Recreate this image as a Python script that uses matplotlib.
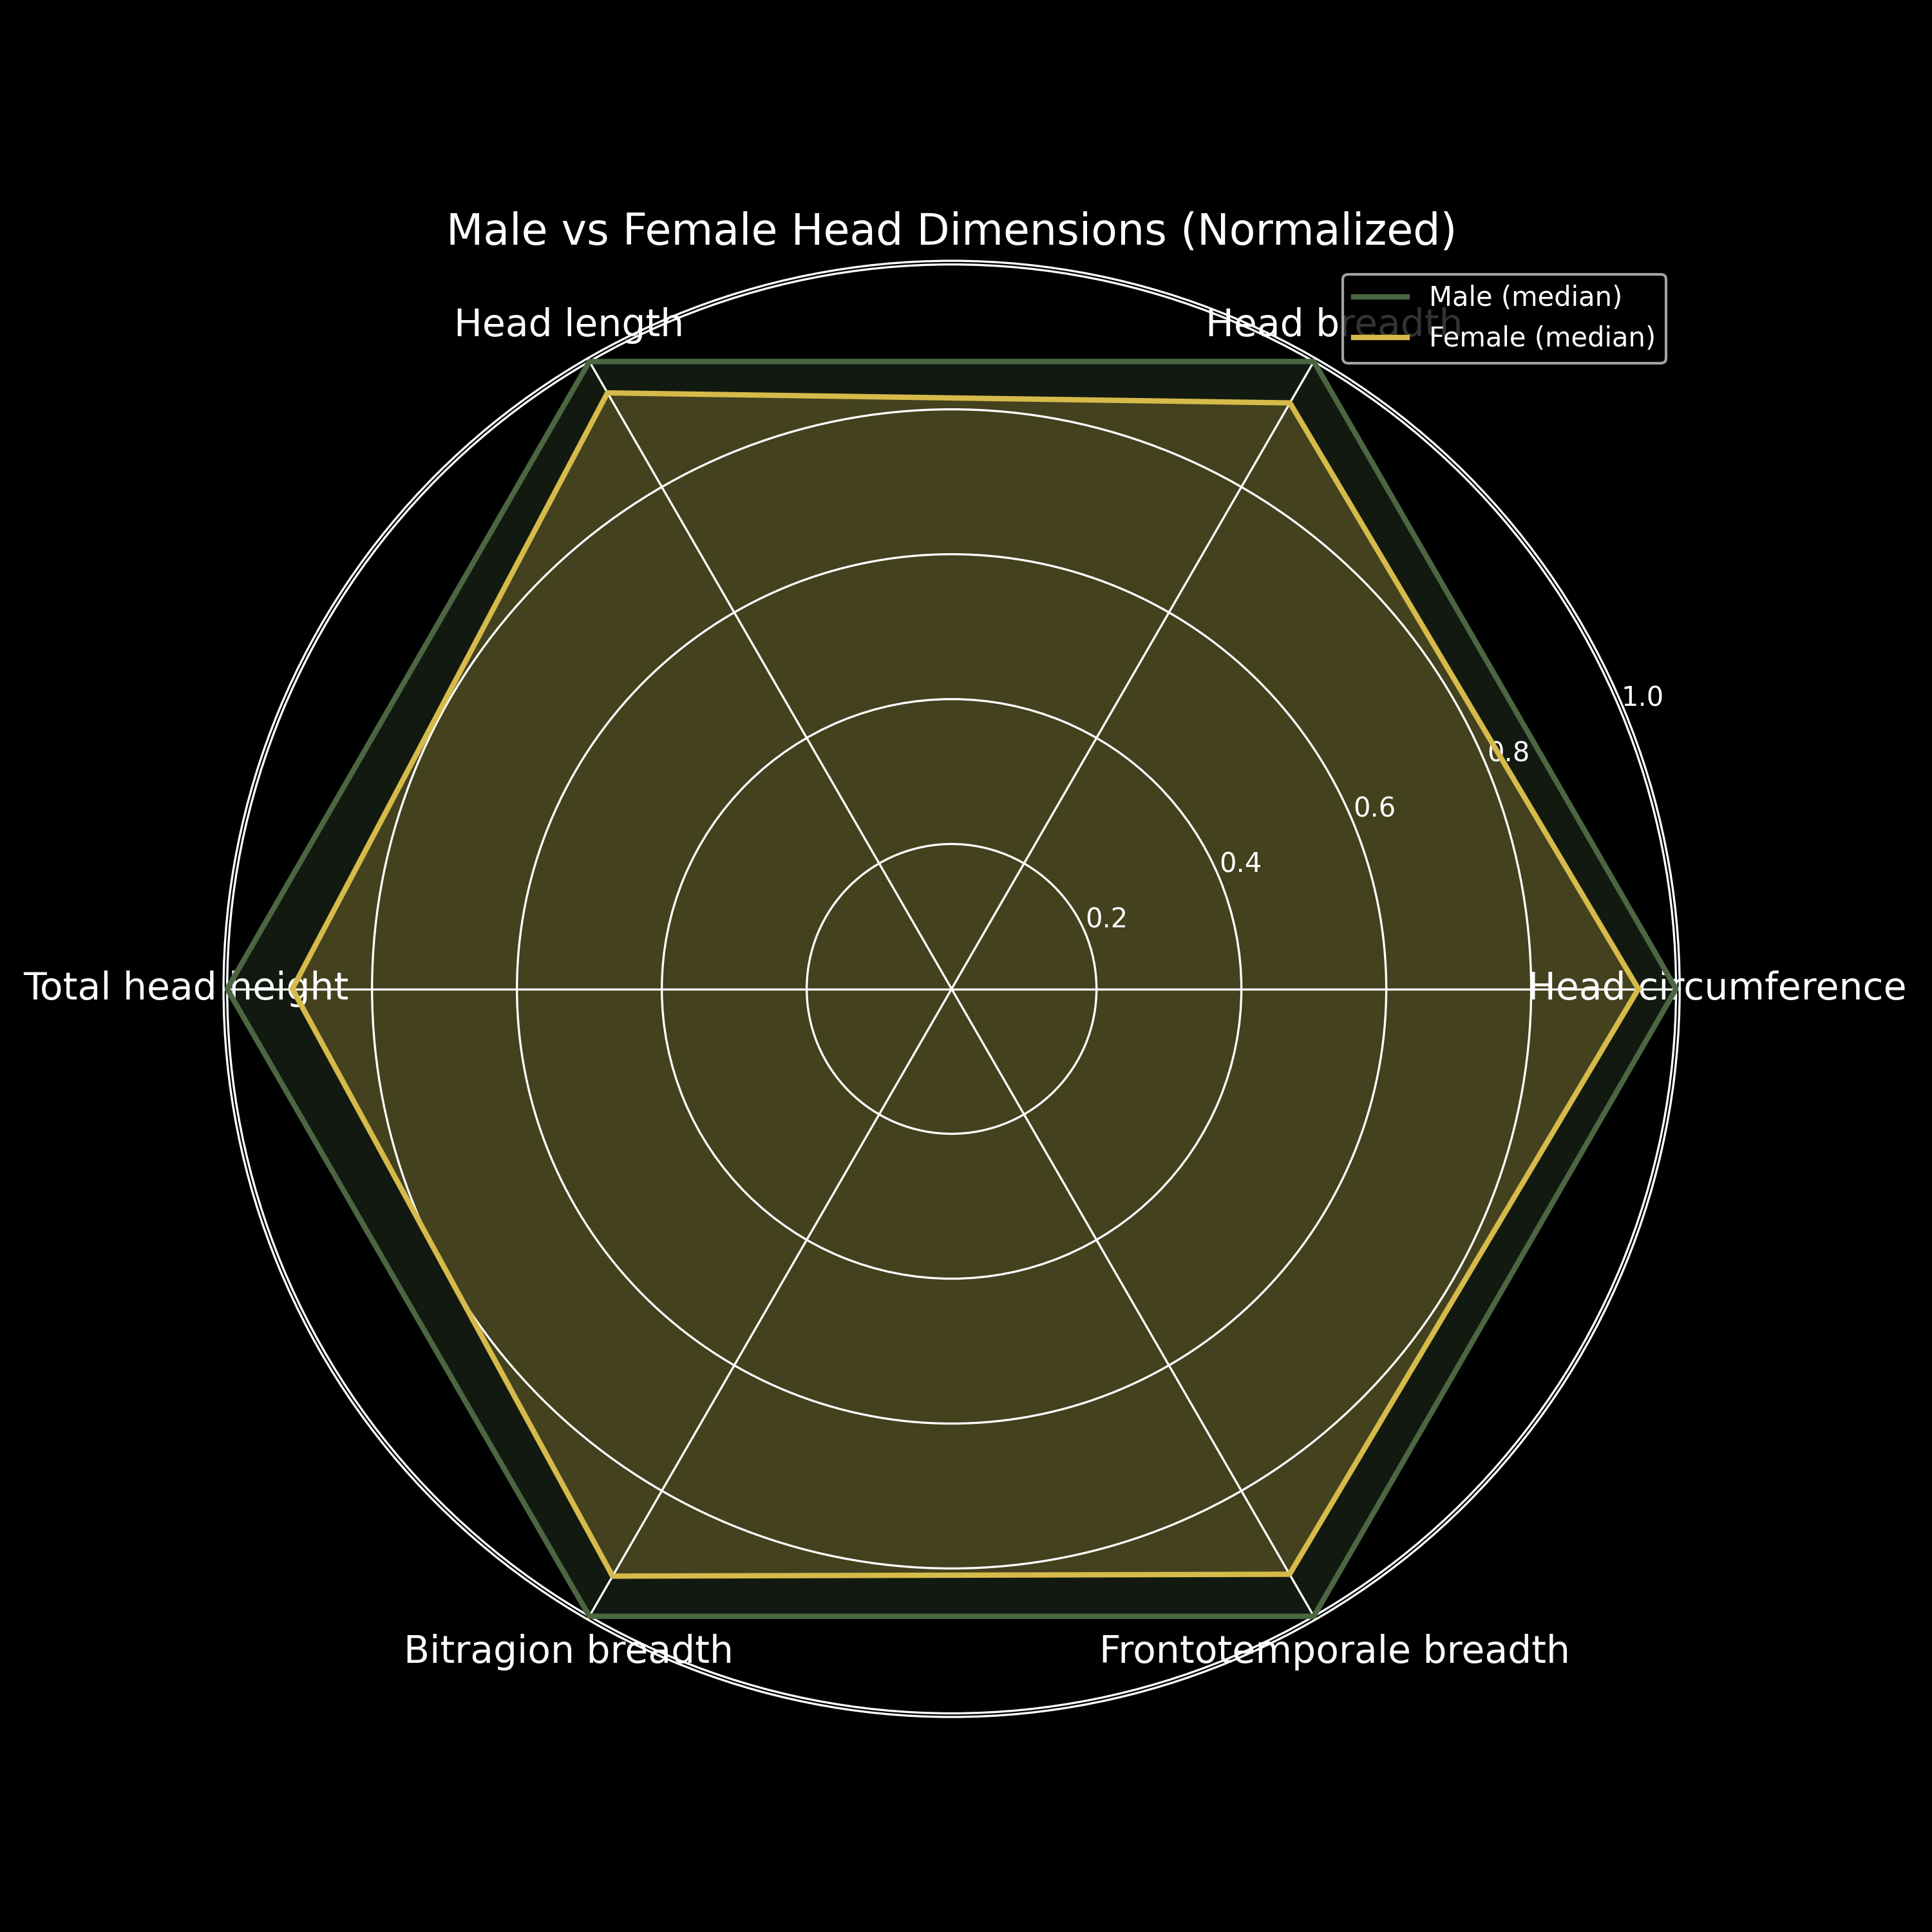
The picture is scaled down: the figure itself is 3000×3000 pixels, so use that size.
import numpy as np
import matplotlib.pyplot as plt

plt.style.use('dark_background')

categories = ['Head circumference', 'Head breadth', 'Head length',
              'Total head height', 'Bitragion breadth', 'Frontotemporale breadth']
male_vals = [1.0, 1.0, 1.0, 1.0, 1.0, 1.0]
female_vals = [0.948, 0.934, 0.950, 0.910, 0.936, 0.933]

male_color = '#4b6741'
female_color = '#d6ba4a'

n = len(categories)
angles = np.linspace(0, 2 * np.pi, n, endpoint=False).tolist()
angles += angles[:1]
male = male_vals + male_vals[:1]
female = female_vals + female_vals[:1]

fig = plt.figure(figsize=(10, 10), dpi=300)
ax = fig.add_axes([0.1157, 0.1113, 0.7537, 0.7537], projection='polar')

ax.plot(angles, male, color=male_color, linewidth=2, label='Male (median)')
ax.fill(angles, male, color=male_color, alpha=0.25)
ax.plot(angles, female, color=female_color, linewidth=2, label='Female (median)')
ax.fill(angles, female, color=female_color, alpha=0.25)

ax.set_xticks(angles[:-1])
ax.set_xticklabels(categories, fontsize=14)
ax.set_ylim(0, 1.005)
ax.set_yticks([0.2, 0.4, 0.6, 0.8, 1.0])

ax.set_title('Male vs Female Head Dimensions (Normalized)', fontsize=16)
ax.legend(loc='upper right')

fig.savefig('out.png', dpi=300)
